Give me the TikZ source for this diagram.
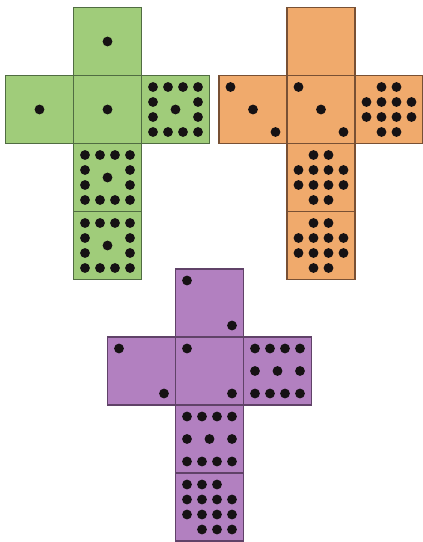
\documentclass[tikz,border=0pt]{standalone}
\definecolor{gfill}{RGB}{160,204,122}
\definecolor{gline}{RGB}{80,108,66}
\definecolor{ofill}{RGB}{240,170,108}
\definecolor{oline}{RGB}{120,80,52}
\definecolor{pfill}{RGB}{178,128,192}
\definecolor{pline}{RGB}{96,66,104}
\definecolor{dotc}{RGB}{22,18,20}
\tikzset{
  face/.style={rectangle,draw,line width=1.2pt,minimum size=68pt,inner sep=0pt},
  gface/.style={face,fill=gfill,draw=gline},
  oface/.style={face,fill=ofill,draw=oline},
  pface/.style={face,fill=pfill,draw=pline},
  pip/.style={fill=dotc},
  pics/one/.style={code={\fill[pip] (0,0) circle (4.9);}},
  pics/diagtwo/.style={code={\foreach \p in {(-22.5,-22.5),(22.5,22.5)} \fill[pip] \p circle (4.9);}},
  pics/diagthree/.style={code={\foreach \p in {(-22.5,-22.5),(0,0),(22.5,22.5)} \fill[pip] \p circle (4.9);}},
  pics/ring/.style={code={\foreach \p in {(-22.5,-22.5),(-7.5,-22.5),(7.5,-22.5),(22.5,-22.5),(-22.5,-7.5),(22.5,-7.5),(-22.5,7.5),(22.5,7.5),(-22.5,22.5),(-7.5,22.5),(7.5,22.5),(22.5,22.5),(0,0)} \fill[pip] \p circle (4.9);}},
  pics/twelve/.style={code={\foreach \p in {(-7.5,-22.5),(7.5,-22.5),(-22.5,-7.5),(-7.5,-7.5),(7.5,-7.5),(22.5,-7.5),(-22.5,7.5),(-7.5,7.5),(7.5,7.5),(22.5,7.5),(-7.5,22.5),(7.5,22.5)} \fill[pip] \p circle (4.9);}},
  pics/ten/.style={code={\foreach \p in {(-22.5,-22.5),(-7.5,-22.5),(7.5,-22.5),(22.5,-22.5),(-22.5,0),(0,0),(22.5,0),(-22.5,22.5),(-7.5,22.5),(7.5,22.5),(22.5,22.5)} \fill[pip] \p circle (4.9);}},
  pics/fourteen/.style={code={\foreach \p in {(-22.5,-22.5),(-7.5,-22.5),(7.5,-22.5),(-22.5,-7.5),(-7.5,-7.5),(7.5,-7.5),(22.5,-7.5),(-22.5,7.5),(-7.5,7.5),(7.5,7.5),(22.5,7.5),(-7.5,22.5),(7.5,22.5),(22.5,22.5)} \fill[pip] \p circle (4.9);}}
}
\begin{document}
\begin{tikzpicture}[x=1pt,y=-1pt]
\useasboundingbox (0,0) rectangle (423,542);
% green net
\node[gface] (gt) at (107.5,41.5) {};
\node[gface] (gl) at (39.5,109.5) {};
\node[gface] (gm) at (107.5,109.5) {};
\node[gface] (gr) at (175.5,109.5) {};
\node[gface] (gb1) at (107.5,177.5) {};
\node[gface] (gb2) at (107.5,245.5) {};
% orange net
\node[oface] (ot) at (321,41.5) {};
\node[oface] (ol) at (253,109.5) {};
\node[oface] (om) at (321,109.5) {};
\node[oface] (or) at (389,109.5) {};
\node[oface] (ob1) at (321,177.5) {};
\node[oface] (ob2) at (321,245.5) {};
% purple net
\node[pface] (pt) at (209.5,303) {};
\node[pface] (pl) at (141.5,371) {};
\node[pface] (pm) at (209.5,371) {};
\node[pface] (pr) at (277.5,371) {};
\node[pface] (pb1) at (209.5,439) {};
\node[pface] (pb2) at (209.5,507) {};
% pips
\pic at (gt) {one};
\pic at (gl) {one};
\pic at (gm) {one};
\pic at (gr) {ring};
\pic at (gb1) {ring};
\pic at (gb2) {ring};
\pic at (ol) {diagthree};
\pic at (om) {diagthree};
\pic at (or) {twelve};
\pic at (ob1) {twelve};
\pic at (ob2) {twelve};
\pic at (pt) {diagtwo};
\pic at (pl) {diagtwo};
\pic at (pm) {diagtwo};
\pic at (pr) {ten};
\pic at (pb1) {ten};
\pic at (pb2) {fourteen};
\end{tikzpicture}
\end{document}
